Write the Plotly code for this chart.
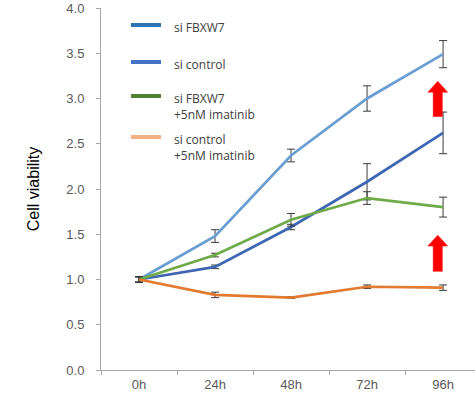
import plotly.graph_objects as go

categories = ["0h", "24h", "48h", "72h", "96h"]

si_fbxw7 = [1.0, 1.48, 2.37, 3.0, 3.49]
si_fbxw7_err = [0.03, 0.07, 0.07, 0.14, 0.15]

si_control = [1.0, 1.14, 1.58, 2.08, 2.62]
si_control_err = [0.03, 0.02, 0.03, 0.2, 0.23]

si_fbxw7_imat = [1.0, 1.27, 1.66, 1.9, 1.80]
si_fbxw7_imat_err = [0.03, 0.02, 0.07, 0.07, 0.11]

si_control_imat = [1.0, 0.83, 0.80, 0.92, 0.91]
si_control_imat_err = [0.03, 0.03, 0.01, 0.02, 0.03]

series_names = ["si FBXW7", "si control", "si FBXW7<br>+5nM imatinib", "si control<br>+5nM imatinib"]
line_colors = ["#6A9ED2", "#3E66B3", "#6FAA48", "#E27A30"]
legend_colors = ["#2E75B6", "#4472C4", "#548235", "#F4B183"]

values = [si_fbxw7, si_control, si_fbxw7_imat, si_control_imat]
errors = [si_fbxw7_err, si_control_err, si_fbxw7_imat_err, si_control_imat_err]

W, H = 475, 393
ML, MR, MT, MB = 101, 0, 8, 23
PW, PH = W - ML - MR, H - MT - MB

def px_to_paper(px, py):
    return (px - ML) / PW, (H - MB - py) / PH

fig = go.Figure()

for i in range(4):
    fig.add_trace(go.Scatter(
        x=categories, y=values[i], mode="lines", name=series_names[i].replace("<br>", " "),
        line=dict(color=line_colors[i], width=2.7),
        error_y=dict(type="data", array=errors[i], visible=True,
                     color="#3A3A3A", thickness=1, width=4),
        showlegend=False, hoverinfo="skip",
    ))

# manual legend (legend colours differ from line colours in the reference)
legend_rows_px = [25, 62, 96, 137]
for i, row in enumerate(legend_rows_px):
    x0, y0 = px_to_paper(131, row)
    x1, _ = px_to_paper(161, row)
    fig.add_shape(type="line", xref="paper", yref="paper", x0=x0, x1=x1, y0=y0, y1=y0,
                  line=dict(color=legend_colors[i], width=4))
    tx, ty = px_to_paper(172, row - 8.5)
    fig.add_annotation(xref="paper", yref="paper", x=tx, y=ty, xanchor="left", yanchor="top",
                       text=series_names[i], showarrow=False, align="left",
                       font=dict(family="Open Sans, Calibri, sans-serif", size=12, color="#404040"))

# red up arrows
def arrow_path(xc, y0, y1, hw=0.13, sw=0.06, hh=0.12):
    yh = y1 - hh
    pts = [(xc - sw, y0), (xc - sw, yh), (xc - hw, yh), (xc, y1),
           (xc + hw, yh), (xc + sw, yh), (xc + sw, y0)]
    return "M " + " L ".join("%f,%f" % p for p in pts) + " Z"

arrows = [(3.93, 2.80, 3.19), (3.93, 1.09, 1.49)]
for xc, y0, y1 in arrows:
    fig.add_shape(type="path", path=arrow_path(xc, y0, y1), xref="x", yref="y",
                  fillcolor="#FF0000", line=dict(color="#FF0000", width=0.5))

fig.update_layout(
    width=W, height=H,
    margin=dict(l=ML, r=MR, t=MT, b=MB, autoexpand=False),
    paper_bgcolor="white", plot_bgcolor="white",
    font=dict(family="Liberation Sans, Arial, sans-serif", color="#595959", size=13),
    showlegend=False,
    xaxis=dict(
        type="category", range=[-0.5, 4.42],
        tickson="boundaries", ticks="outside", ticklen=4, tickcolor="#A6A6A6",
        showline=True, linecolor="#A6A6A6", linewidth=1,
        showgrid=False, zeroline=False,
        tickfont=dict(size=13, color="#595959"),
        ticklabelstandoff=2,
    ),
    yaxis=dict(
        range=[0, 4.0], dtick=0.5, tickformat=".1f",
        ticks="outside", ticklen=4, tickcolor="#A6A6A6",
        showline=True, linecolor="#A6A6A6", linewidth=1,
        showgrid=False, zeroline=False,
        tickfont=dict(size=13, color="#595959"),
        ticklabelstandoff=9,
        title=dict(text="Cell viability", standoff=22,
                   font=dict(size=16, color="#000000", family="Liberation Sans, Arial, sans-serif")),
    ),
)

fig.write_html("out.html", config={"displayModeBar": False},
               post_script="document.body.style.margin='0px';")
